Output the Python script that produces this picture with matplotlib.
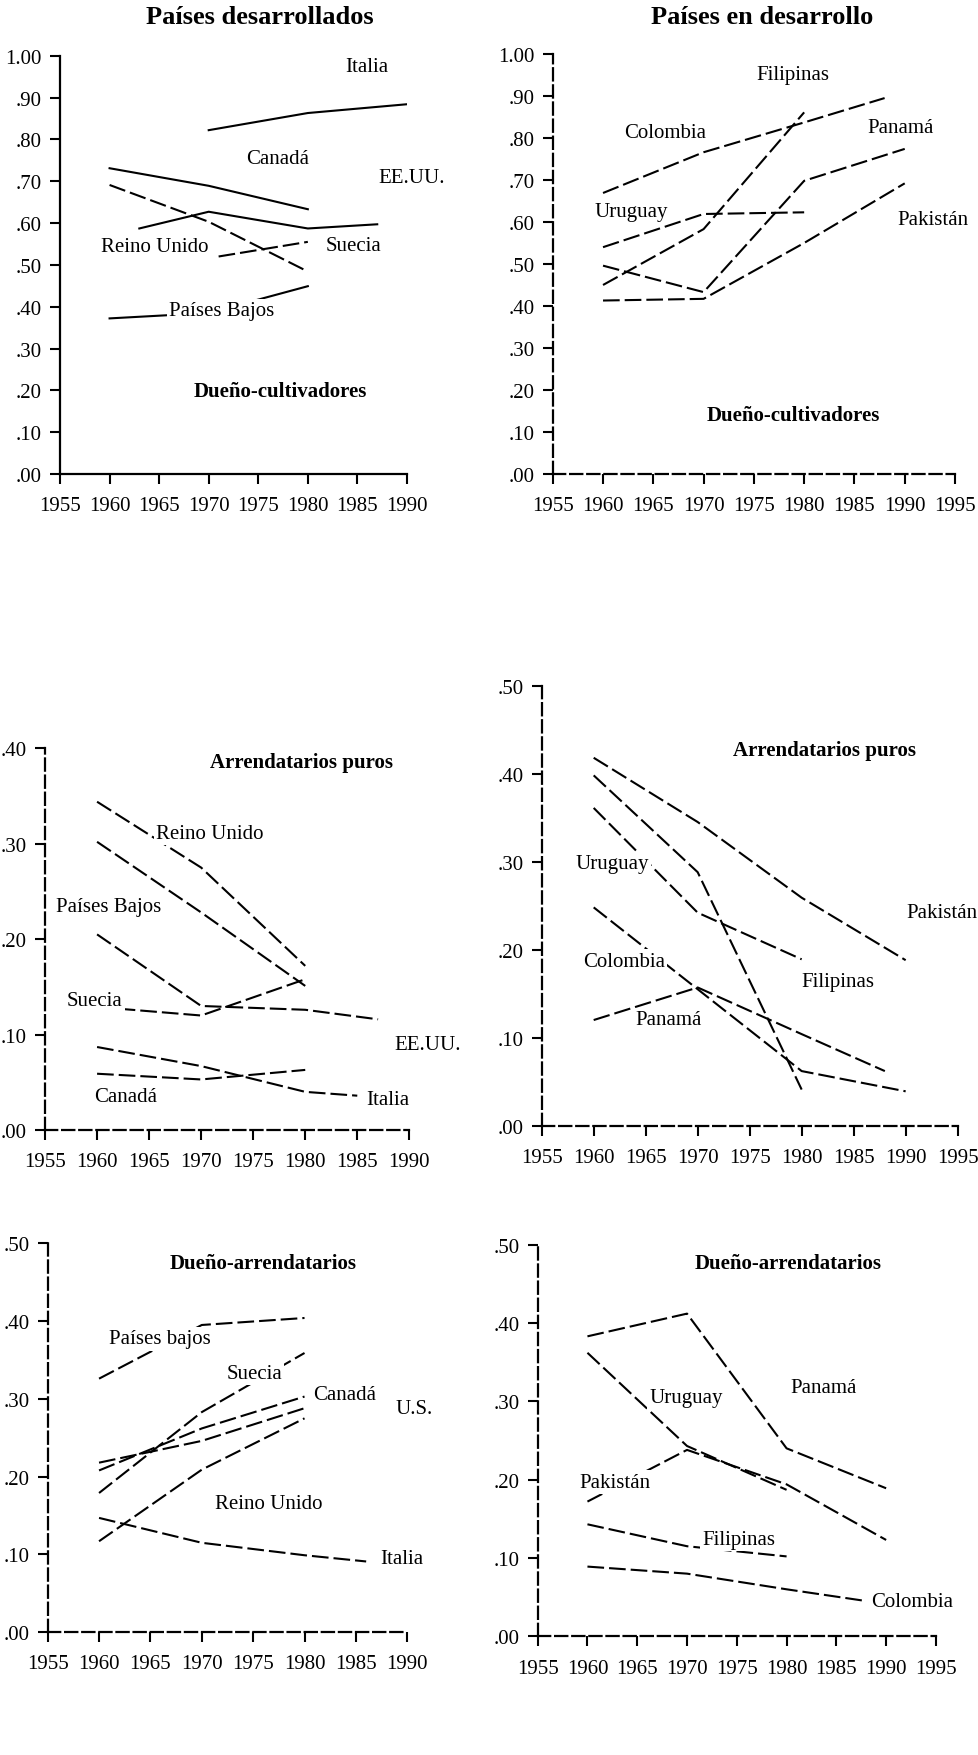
import numpy as np
import matplotlib
matplotlib.use("Agg")
import matplotlib.pyplot as plt

plt.rcParams['font.family'] = ['Liberation Serif', 'DejaVu Serif']

# ------------------------------------------------------------------
# data
# ------------------------------------------------------------------

# panel 1: Países desarrollados - Dueño-cultivadores
p1_names = ['Italia', 'Canadá', 'EE.UU.', 'Reino Unido', 'Suecia', 'Países Bajos']
p1_years = [[1970, 1980, 1990],
            [1960, 1970, 1980],
            [1963, 1970, 1980, 1987],
            [1960, 1970, 1980],
            [1971, 1980],
            [1960, 1970, 1980]]
p1_values = [[0.822, 0.863, 0.884],
             [0.731, 0.689, 0.633],
             [0.587, 0.627, 0.587, 0.597],
             [0.691, 0.603, 0.484],
             [0.520, 0.555],
             [0.372, 0.385, 0.449]]
p1_dashed = [False, False, False, True, True, False]

# panel 2: Países en desarrollo - Dueño-cultivadores
p2_names = ['Colombia', 'Filipinas', 'Uruguay', 'Panamá', 'Pakistán']
p2_years = [[1960, 1970, 1980, 1988],
            [1960, 1970, 1980],
            [1960, 1970, 1980],
            [1960, 1970, 1980, 1990],
            [1960, 1970, 1980, 1990]]
p2_values = [[0.669, 0.766, 0.837, 0.895],
             [0.450, 0.583, 0.861],
             [0.540, 0.619, 0.623],
             [0.496, 0.433, 0.698, 0.774],
             [0.413, 0.417, 0.550, 0.692]]

# panel 3: Países desarrollados - Arrendatarios puros
p3_names = ['Reino Unido', 'Países Bajos', 'EE.UU.', 'Suecia', 'Canadá', 'Italia']
p3_years = [[1960, 1970, 1980],
            [1960, 1970, 1980],
            [1960, 1970, 1980, 1987],
            [1960, 1970, 1980],
            [1960, 1970, 1980],
            [1960, 1970, 1980, 1985]]
p3_values = [[0.344, 0.275, 0.172],
             [0.302, 0.228, 0.151],
             [0.205, 0.130, 0.126, 0.116],
             [0.129, 0.120, 0.158],
             [0.059, 0.053, 0.063],
             [0.087, 0.067, 0.040, 0.036]]

# panel 4: Países en desarrollo - Arrendatarios puros
p4_names = ['Pakistán', 'Filipinas', 'Uruguay', 'Colombia', 'Panamá']
p4_years = [[1960, 1970, 1980, 1990],
            [1960, 1970, 1980],
            [1960, 1970, 1980],
            [1960, 1970, 1980, 1990],
            [1960, 1970, 1980, 1988]]
p4_values = [[0.418, 0.345, 0.259, 0.188],
             [0.398, 0.288, 0.041],
             [0.361, 0.242, 0.189],
             [0.248, 0.155, 0.062, 0.039],
             [0.120, 0.157, 0.104, 0.062]]

# panel 5: Países desarrollados - Dueño-arrendatarios
p5_names = ['Países bajos', 'Suecia', 'Canadá', 'U.S.', 'Reino Unido', 'Italia']
p5_years = [[1960, 1970, 1980],
            [1960, 1970, 1980],
            [1960, 1970, 1980],
            [1960, 1970, 1980],
            [1960, 1970, 1980],
            [1960, 1970, 1980, 1986]]
p5_values = [[0.326, 0.395, 0.404],
             [0.179, 0.283, 0.359],
             [0.208, 0.262, 0.303],
             [0.218, 0.246, 0.288],
             [0.117, 0.209, 0.275],
             [0.147, 0.115, 0.099, 0.091]]

# panel 6: Países en desarrollo - Dueño-arrendatarios
p6_names = ['Panamá', 'Uruguay', 'Pakistán', 'Filipinas', 'Colombia']
p6_years = [[1960, 1970, 1980, 1990],
            [1960, 1970, 1980],
            [1960, 1970, 1980, 1990],
            [1960, 1970, 1980],
            [1960, 1970, 1980, 1988]]
p6_values = [[0.383, 0.412, 0.240, 0.189],
             [0.362, 0.243, 0.187],
             [0.172, 0.238, 0.194, 0.123],
             [0.143, 0.115, 0.102],
             [0.089, 0.080, 0.060, 0.045]]

# label positions (year, value)
p1_label_pos = [(1985.9, 0.975), (1977.0, 0.755), (1990.5, 0.71),
                (1964.6, 0.545), (1984.6, 0.547), (1971.3, 0.39)]
p2_label_pos = [(1966.2, 0.812), (1978.9, 0.95), (1962.8, 0.624),
                (1989.6, 0.826), (1992.8, 0.607)]
p3_label_pos = [(1970.8, 0.311), (1961.1, 0.234), (1991.8, 0.090),
                (1959.8, 0.136), (1962.7, 0.035), (1987.9, 0.032)]
p4_label_pos = [(1993.5, 0.242), (1983.5, 0.164), (1961.8, 0.298),
                (1962.9, 0.187), (1967.2, 0.121)]
p5_label_pos = [(1965.9, 0.377), (1975.1, 0.333), (1983.9, 0.305),
                (1990.7, 0.288), (1976.5, 0.166), (1989.5, 0.095)]
p6_label_pos = [(1983.7, 0.318), (1969.9, 0.305), (1962.8, 0.197),
                (1975.2, 0.124), (1992.6, 0.045)]

# ------------------------------------------------------------------
# drawing
# ------------------------------------------------------------------

fig = plt.figure(figsize=(9.79, 17.56), dpi=100)

line_dash = (0, (8, 2.4))
spine_dash = (0, (5.5, 2.2))


def make_axes(rect, xmax, ymax, ystep, ylabels, dashed_spines):
    ax = fig.add_axes(rect)
    ax.set_xlim(1955, xmax)
    ax.set_ylim(0, ymax)
    ax.spines['top'].set_visible(False)
    ax.spines['right'].set_visible(False)
    for s in ['left', 'bottom']:
        ax.spines[s].set_linewidth(1.6)
        if dashed_spines:
            ax.spines[s].set_linestyle(spine_dash)
    ax.set_xticks(np.arange(1955, xmax + 1, 5))
    ax.set_yticks(np.arange(0, ymax + 0.001, ystep))
    ax.set_yticklabels(ylabels)
    ax.tick_params(direction='out', length=7, width=1.5, labelsize=15, pad=6)
    ax.tick_params(axis='x', pad=9)
    ax.patch.set_alpha(0)
    return ax


def draw_lines(ax, years, values, dashed):
    for yrs, vals, d in zip(years, values, dashed):
        if d:
            ax.plot(yrs, vals, color='black', lw=1.5, linestyle=line_dash, zorder=2)
        else:
            ax.plot(yrs, vals, color='black', lw=1.5, zorder=2)


def draw_labels(ax, names, positions):
    for name, (x, y) in zip(names, positions):
        ax.text(x, y, name, fontsize=15, ha='center', va='center', zorder=3,
                bbox=dict(facecolor='white', edgecolor='none', pad=1.5),
                clip_on=False)


labels_100 = ['.00', '.10', '.20', '.30', '.40', '.50', '.60', '.70', '.80', '.90', '1.00']
labels_40 = ['.00', '.10', '.20', '.30', '.40']
labels_50 = ['.00', '.10', '.20', '.30', '.40', '.50']

# panel 1
ax1 = make_axes([0.0613, 0.7295, 0.3544, 0.2382], 1990, 1.0, 0.1, labels_100, False)
draw_lines(ax1, p1_years, p1_values, p1_dashed)
draw_labels(ax1, p1_names, p1_label_pos)
ax1.text(1977.2, 0.198, 'Dueño-cultivadores', fontsize=15, fontweight='bold',
         ha='center', va='center')

# panel 2
ax2 = make_axes([0.5646, 0.7295, 0.4109, 0.2392], 1995, 1.0, 0.1, labels_100, True)
draw_lines(ax2, p2_years, p2_values, [True] * len(p2_names))
draw_labels(ax2, p2_names, p2_label_pos)
ax2.text(1978.9, 0.14, 'Dueño-cultivadores', fontsize=15, fontweight='bold',
         ha='center', va='center')

# panel 3
ax3 = make_axes([0.046, 0.3559, 0.3721, 0.2174], 1990, 0.40, 0.1, labels_40, True)
draw_lines(ax3, p3_years, p3_values, [True] * len(p3_names))
draw_labels(ax3, p3_names, p3_label_pos)
ax3.text(1979.6, 0.386, 'Arrendatarios puros', fontsize=15, fontweight='bold',
         ha='center', va='center')

# panel 4
ax4 = make_axes([0.5533, 0.3584, 0.4249, 0.2506], 1995, 0.50, 0.1, labels_50, True)
draw_lines(ax4, p4_years, p4_values, [True] * len(p4_names))
draw_labels(ax4, p4_names, p4_label_pos)
ax4.text(1982.2, 0.427, 'Arrendatarios puros', fontsize=15, fontweight='bold',
         ha='center', va='center')

# panel 5
ax5 = make_axes([0.0487, 0.0699, 0.3673, 0.2215], 1990, 0.50, 0.1, labels_50, True)
draw_lines(ax5, p5_years, p5_values, [True] * len(p5_names))
draw_labels(ax5, p5_names, p5_label_pos)
ax5.text(1976.0, 0.475, 'Dueño-arrendatarios', fontsize=15, fontweight='bold',
         ha='center', va='center')

# panel 6
ax6 = make_axes([0.5492, 0.0676, 0.4068, 0.2230], 1995, 0.50, 0.1, labels_50, True)
draw_lines(ax6, p6_years, p6_values, [True] * len(p6_names))
draw_labels(ax6, p6_names, p6_label_pos)
ax6.text(1980.2, 0.477, 'Dueño-arrendatarios', fontsize=15, fontweight='bold',
         ha='center', va='center')

# column titles
fig.text(260 / 979, 1 - 18 / 1756, 'Países desarrollados', fontsize=19,
         fontweight='bold', ha='center', va='center')
fig.text(762 / 979, 1 - 18 / 1756, 'Países en desarrollo', fontsize=19,
         fontweight='bold', ha='center', va='center')

fig.savefig('out.png', dpi=100)
